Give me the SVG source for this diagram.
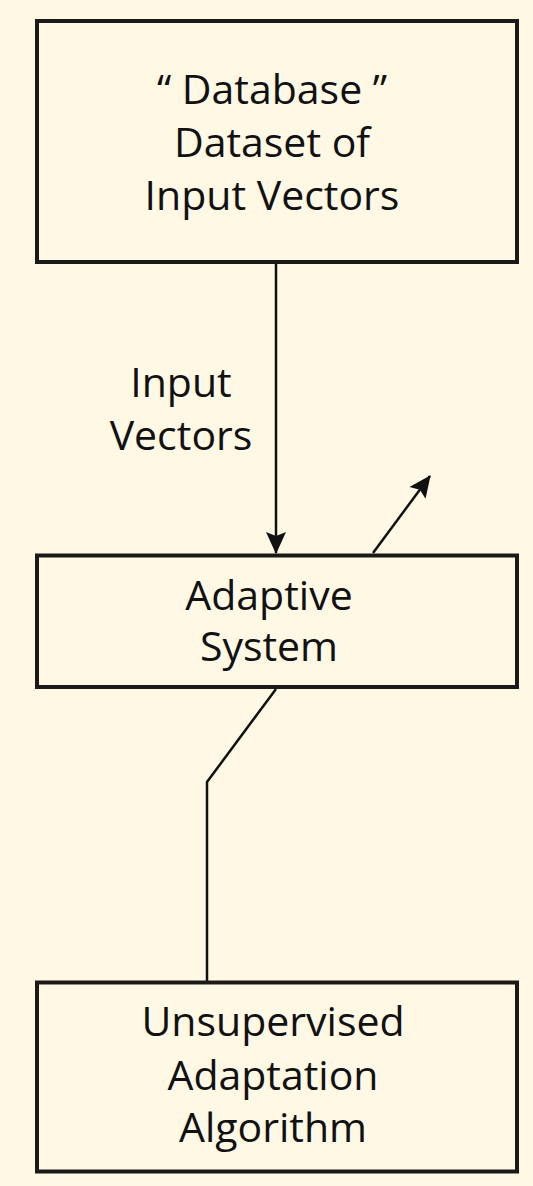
<svg xmlns="http://www.w3.org/2000/svg" width="533" height="1186" viewBox="0 0 533 1186">
  <defs>
    <style>
      .box { fill: none; stroke: #1c1a17; stroke-width: 4; }
      .wire { fill: none; stroke: #111; stroke-width: 2.5; }
      .label { font-family: "Open Sans", "Liberation Sans", sans-serif; font-size: 41px; fill: #111; text-anchor: middle; }
    </style>
    <marker id="head" viewBox="0 0 22 22" refX="21" refY="11" markerWidth="22" markerHeight="22" markerUnits="userSpaceOnUse" orient="auto">
      <path d="M0,1 L22,11 L0,21 L4,11 Z" fill="#111"/>
    </marker>
  </defs>

  <rect x="0" y="0" width="533" height="1186" fill="#fff8e5"/>

  <g id="database">
    <rect class="box" x="37" y="21" width="480" height="241"/>
    <text class="label" x="272" y="104">“ Database ”</text>
    <text class="label" x="272" y="157">Dataset of</text>
    <text class="label" x="272" y="210">Input Vectors</text>
  </g>

  <g id="adaptive-system">
    <rect class="box" x="37" y="555.5" width="480" height="131.5"/>
    <text class="label" x="269" y="610">Adaptive</text>
    <text class="label" x="269" y="661">System</text>
  </g>

  <g id="algorithm">
    <rect class="box" x="37" y="982.5" width="480" height="189"/>
    <text class="label" x="273" y="1036">Unsupervised</text>
    <text class="label" x="273" y="1090">Adaptation</text>
    <text class="label" x="273" y="1142">Algorithm</text>
  </g>

  <g id="connectors">
    <line class="wire" x1="276" y1="264" x2="276" y2="553" marker-end="url(#head)"/>
    <text class="label" x="181" y="397">Input</text>
    <text class="label" x="181" y="450">Vectors</text>
    <line class="wire" x1="373" y1="553" x2="430" y2="476" marker-end="url(#head)"/>
    <polyline class="wire" points="276,689 207,782 207,981"/>
  </g>
</svg>
